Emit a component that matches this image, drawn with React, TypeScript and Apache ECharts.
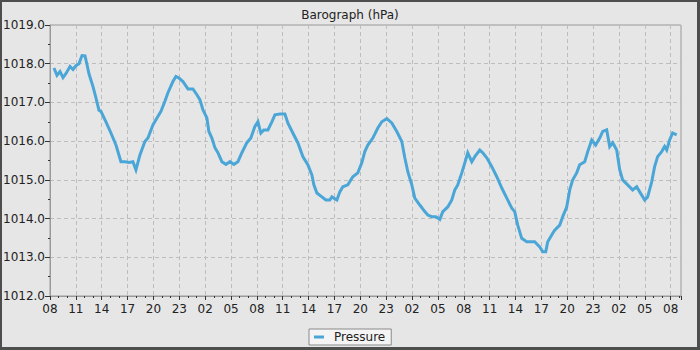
import React, { useEffect, useRef } from "react";
import * as echarts from "echarts";

// Hours elapsed since 08:00 on the first day
const hours = [
  0.46, 0.81, 1.16, 1.51, 1.86, 2.32, 2.67, 3.01, 3.36, 3.71, 4.06, 4.29, 4.52, 4.99, 5.33, 5.68, 5.91, 6.49,
  7.07, 7.65, 8.23, 8.7, 9.16, 9.62, 9.97, 10.43, 11.01, 11.36, 11.94, 12.29, 12.87, 13.33, 13.68, 14.26, 14.61,
  14.96, 15.42, 16.0, 16.58, 17.04, 17.39, 17.74, 18.2, 18.43, 18.78, 19.13, 19.48, 19.94, 20.41, 20.87, 21.33,
  21.8, 22.26, 22.84, 23.3, 23.77, 24.12, 24.46, 24.81, 25.28, 25.74, 26.09, 26.67, 27.25, 27.59, 28.17, 28.75,
  29.33, 29.91, 30.38, 30.61, 30.96, 31.54, 32.0, 32.46, 32.7, 33.28, 33.62, 33.97, 34.55, 35.13, 35.71, 36.17,
  36.52, 36.87, 37.45, 38.03, 38.49, 39.07, 39.65, 40.23, 40.81, 41.16, 41.51, 41.97, 42.32, 42.9, 43.48, 43.83,
  44.29, 44.75, 45.22, 45.57, 46.14, 46.61, 46.96, 47.3, 47.77, 48.12, 48.46, 48.93, 49.28, 49.86, 50.2, 50.67,
  51.25, 51.83, 52.41, 52.99, 53.57, 53.91, 54.26, 54.72, 55.3, 55.77, 56.23, 56.81, 57.16, 57.51, 57.74, 58.32,
  58.55, 59.13, 59.48, 59.94, 60.29, 60.64, 61.1, 61.45, 62.03, 62.38, 62.84, 63.3, 63.77, 64.12, 64.58, 64.93,
  65.28, 65.74, 66.09, 66.43, 67.01, 67.59, 68.06, 68.41, 68.99, 69.33, 69.8, 70.14, 70.49, 70.96, 71.3, 71.54,
  71.88, 72.23, 72.7,
];

const pressure = [
  1017.89, 1017.7, 1017.8, 1017.64, 1017.75, 1017.93, 1017.85, 1017.95, 1018.0, 1018.21, 1018.2, 1017.98, 1017.74,
  1017.41, 1017.12, 1016.8, 1016.77, 1016.5, 1016.21, 1015.9, 1015.47, 1015.47, 1015.45, 1015.47, 1015.26, 1015.64,
  1015.99, 1016.08, 1016.42, 1016.55, 1016.77, 1017.03, 1017.25, 1017.54, 1017.67, 1017.63, 1017.54, 1017.35,
  1017.35, 1017.2, 1017.07, 1016.81, 1016.6, 1016.25, 1016.08, 1015.83, 1015.7, 1015.47, 1015.4, 1015.47, 1015.4,
  1015.47, 1015.7, 1015.96, 1016.08, 1016.38, 1016.5, 1016.21, 1016.29, 1016.29, 1016.5, 1016.68, 1016.7, 1016.7,
  1016.47, 1016.21, 1015.96, 1015.6, 1015.39, 1015.13, 1014.87, 1014.66, 1014.56, 1014.48, 1014.48, 1014.56,
  1014.48, 1014.69, 1014.82, 1014.87, 1015.08, 1015.18, 1015.44, 1015.73, 1015.9, 1016.08, 1016.34, 1016.5,
  1016.58, 1016.47, 1016.25, 1015.99, 1015.57, 1015.21, 1014.87, 1014.53, 1014.35, 1014.18, 1014.09, 1014.05,
  1014.05, 1013.98, 1014.18, 1014.3, 1014.48, 1014.74, 1014.87, 1015.18, 1015.44, 1015.7, 1015.47, 1015.6, 1015.77,
  1015.7, 1015.57, 1015.34, 1015.08, 1014.79, 1014.53, 1014.27, 1014.18, 1013.83, 1013.49, 1013.4, 1013.4, 1013.4,
  1013.27, 1013.14, 1013.14, 1013.4, 1013.62, 1013.7, 1013.83, 1014.05, 1014.3, 1014.74, 1015.0, 1015.18, 1015.39,
  1015.47, 1015.73, 1016.03, 1015.9, 1016.08, 1016.25, 1016.29, 1015.86, 1015.96, 1015.77, 1015.26, 1015.0,
  1014.87, 1014.74, 1014.82, 1014.69, 1014.48, 1014.56, 1014.95, 1015.34, 1015.6, 1015.73, 1015.86, 1015.77,
  1016.03, 1016.21, 1016.16,
];

const startHour = 8;
const yTicks = [1012, 1013, 1014, 1015, 1016, 1017, 1018, 1019];
const seriesName = "Pressure";
const titleText = "Barograph (hPa)";

const FONT = "DejaVu Sans";

export default function App() {
  const ref = useRef<HTMLDivElement>(null);

  useEffect(() => {
    if (!ref.current) return;
    const chart = echarts.init(ref.current, undefined, { renderer: "svg" });
    const data = hours.map((h, i) => [h, pressure[i]]);
    const dashed = { color: "#bdbdbd", width: 1, type: [4, 3] as any };
    chart.setOption({
      animation: false,
      backgroundColor: "#e6e6e6",
      title: {
        text: titleText,
        left: "center",
        top: 4,
        textStyle: { fontFamily: FONT, fontSize: 12, fontWeight: "normal", color: "#222" },
      },
      legend: {
        data: [seriesName],
        left: 309,
        top: 329,
        icon: "rect",
        itemWidth: 10,
        itemHeight: 3,
        padding: [2, 6, 2, 5],
        backgroundColor: "#f4f4f4",
        borderColor: "#8a8a8a",
        borderWidth: 1,
        borderRadius: 0,
        textStyle: { fontFamily: FONT, fontSize: 12, color: "#222", padding: [0, 0, 0, 5] },
      },
      grid: {
        left: 50,
        top: 25,
        right: 19,
        bottom: 54,
        show: true,
        borderColor: "#9a9a9a",
        borderWidth: 1,
        backgroundColor: "transparent",
      },
      xAxis: {
        type: "value",
        min: 0,
        max: 73.2,
        interval: 3,
        axisLine: { show: true, lineStyle: { color: "#9a9a9a" } },
        axisTick: { show: true, length: 4, lineStyle: { color: "#333" } },
        minorTick: { show: true, splitNumber: 3, length: 2, lineStyle: { color: "#333" } },
        splitLine: { show: true, lineStyle: dashed },
        axisLabel: {
          fontFamily: FONT,
          fontSize: 12,
          color: "#222",
          margin: 7,
          showMaxLabel: false,
          formatter: (v: number) => {
            const h = (startHour + Math.round(v)) % 24;
            return h < 10 ? "0" + h : String(h);
          },
        },
      },
      yAxis: {
        type: "value",
        min: yTicks[0],
        max: yTicks[yTicks.length - 1],
        interval: 1,
        axisLine: { show: true, lineStyle: { color: "#9a9a9a" } },
        axisTick: { show: true, length: 5, lineStyle: { color: "#333" } },
        minorTick: { show: true, splitNumber: 2, length: 2, lineStyle: { color: "#333" } },
        splitLine: { show: true, lineStyle: dashed },
        axisLabel: {
          fontFamily: FONT,
          fontSize: 12,
          color: "#222",
          margin: 5,
          formatter: (v: number) => v.toFixed(1),
        },
      },
      series: [
        {
          name: seriesName,
          type: "line",
          data,
          showSymbol: false,
          symbol: "none",
          lineStyle: { color: "#4ba6d8", width: 3, join: "miter" },
          itemStyle: { color: "#4ba6d8" },
        },
      ],
    });
    return () => chart.dispose();
  }, []);

  return (
    <div style={{ position: "fixed", left: 0, top: 0, width: 700, height: 350 }}>
      <div ref={ref} style={{ position: "absolute", left: 0, top: 0, width: 700, height: 350 }} />
      <div
        style={{
          position: "absolute",
          left: 0,
          top: 0,
          width: 700,
          height: 350,
          boxSizing: "border-box",
          borderTop: "2px solid #4e4e4e",
          borderLeft: "2px solid #4e4e4e",
          borderRight: "3px solid #4e4e4e",
          borderBottom: "3px solid #4e4e4e",
          pointerEvents: "none",
        }}
      />
    </div>
  );
}
